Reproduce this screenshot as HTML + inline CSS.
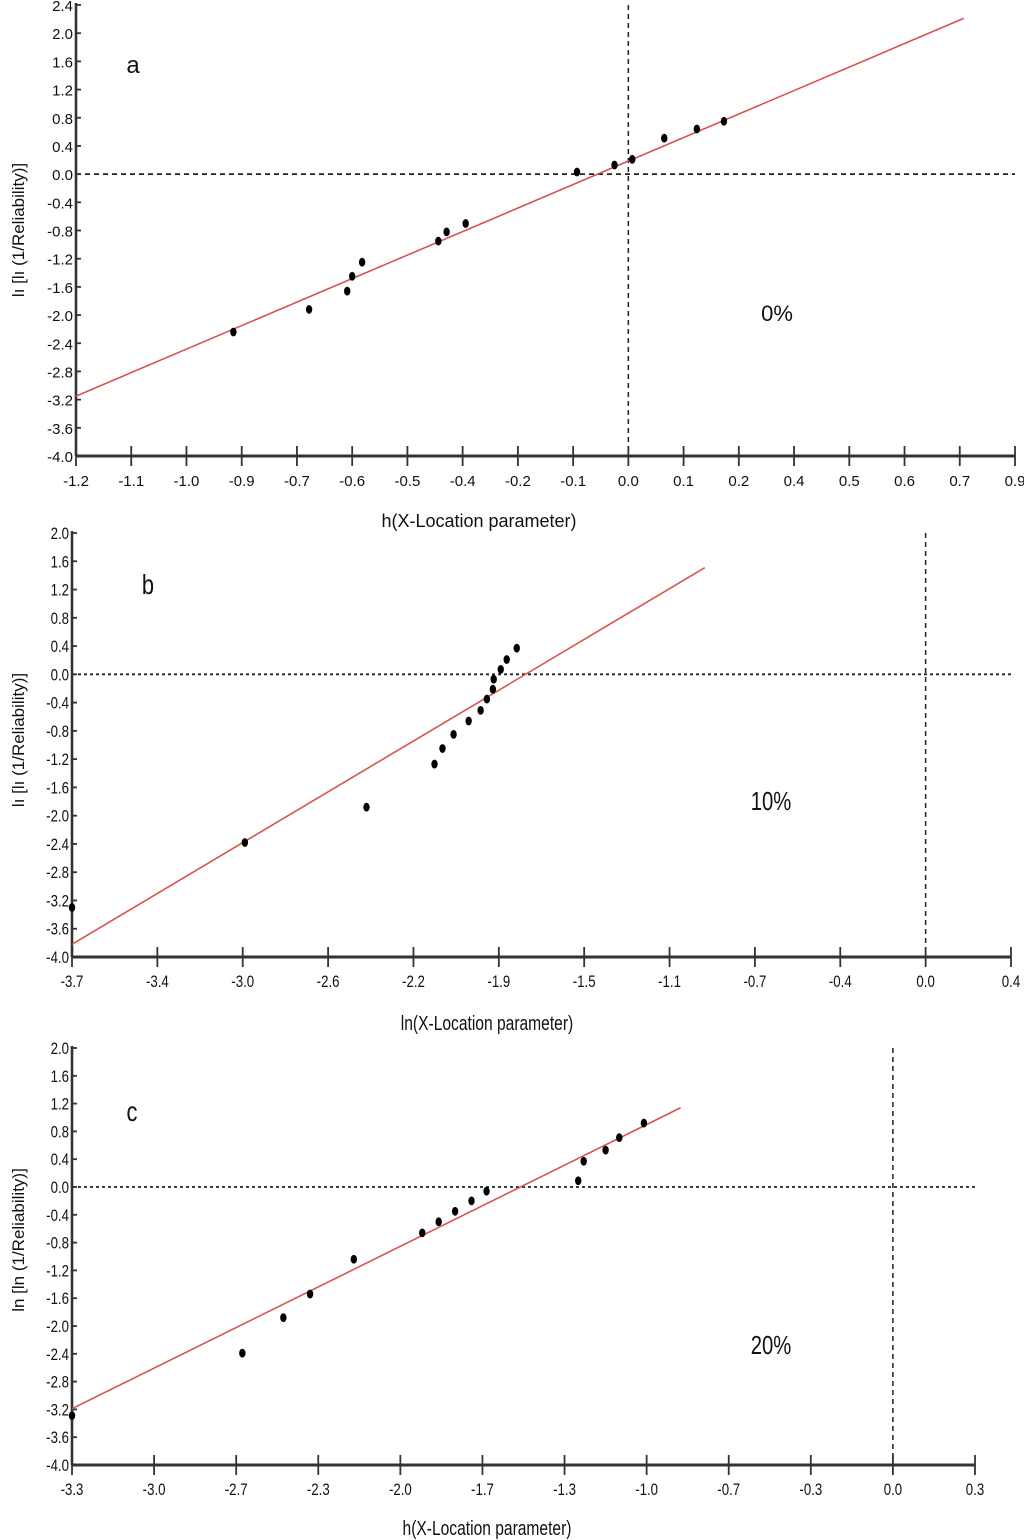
<!DOCTYPE html>
<html><head><meta charset="utf-8"><style>
html,body{margin:0;padding:0;background:#fff;}
svg{display:block;}
text{font-family:"Liberation Sans",sans-serif;fill:#111;}
</style></head><body>
<svg id="chart" width="1024" height="1540" viewBox="0 0 1024 1540" xmlns="http://www.w3.org/2000/svg"></svg>
<script>
// Panel a data
const aXTicks = [-1.2,-1.1,-1.0,-0.9,-0.7,-0.6,-0.5,-0.4,-0.2,-0.1,0.0,0.1,0.2,0.4,0.5,0.6,0.7,0.9];
const aYTicks = [2.4,2.0,1.6,1.2,0.8,0.4,0.0,-0.4,-0.8,-1.2,-1.6,-2.0,-2.4,-2.8,-3.2,-3.6,-4.0];
const aX = [-0.915,-0.678,-0.609,-0.600,-0.582,-0.444,-0.429,-0.389,-0.093,-0.025,0.007,0.065,0.124,0.173];
const aY = [-2.24,-1.92,-1.66,-1.45,-1.25,-0.95,-0.82,-0.70,0.03,0.13,0.21,0.51,0.64,0.75];
const aLineX = [-1.2,0.714];
const aLineY = [-3.15,2.21];
// Panel b data
const bXTicks = [-3.7,-3.4,-3.0,-2.6,-2.2,-1.9,-1.5,-1.1,-0.7,-0.4,0.0,0.4];
const bYTicks = [2.0,1.6,1.2,0.8,0.4,0.0,-0.4,-0.8,-1.2,-1.6,-2.0,-2.4,-2.8,-3.2,-3.6,-4.0];
const bX = [-3.70,-2.99,-2.42,-2.126,-2.098,-2.059,-2.006,-1.964,-1.942,-1.921,-1.918,-1.891,-1.863,-1.816];
const bY = [-3.30,-2.38,-1.88,-1.27,-1.05,-0.85,-0.66,-0.51,-0.35,-0.21,-0.07,0.07,0.21,0.37];
const bLineX = [-3.7,-0.935];
const bLineY = [-3.82,1.51];
// Panel c data
const cXTicks = [-3.3,-3.0,-2.7,-2.3,-2.0,-1.7,-1.3,-1.0,-0.7,-0.3,0.0,0.3];
const cYTicks = [2.0,1.6,1.2,0.8,0.4,0.0,-0.4,-0.8,-1.2,-1.6,-2.0,-2.4,-2.8,-3.2,-3.6,-4.0];
const cX = [-3.30,-2.67,-2.47,-2.34,-2.17,-1.92,-1.86,-1.80,-1.74,-1.68,-1.25,-1.23,-1.15,-1.10,-1.01];
const cY = [-3.29,-2.39,-1.88,-1.54,-1.04,-0.66,-0.50,-0.35,-0.20,-0.06,0.09,0.37,0.53,0.71,0.92];
const cLineX = [-3.3,-0.876];
const cLineY = [-3.19,1.14];

const NS = "http://www.w3.org/2000/svg";
const svg = document.getElementById('chart');
function mk(tag, attrs, parent){const e=document.createElementNS(NS,tag);for(const k in attrs)e.setAttribute(k,attrs[k]);parent.appendChild(e);return e;}
function txt(g,x,y,anchor,size,sx,str,rot){
  const t=mk('text',{x:0,y:0,'text-anchor':anchor,'font-size':size,
    transform:`translate(${x},${y})`+(rot?' rotate(-90)':'')+` scale(${sx},1)`},g);
  t.textContent=str;return t;
}

function panel(cfg){
  const g = mk('g',{},svg);
  
  
  const L=cfg.left, R=cfg.right, T=cfg.top, B=cfg.bottom, sx=cfg.sx;
  const xt=cfg.xTicks, yt=cfg.yTicks;
  const step=(R-L)/(xt.length-1);
  const xs = v => {
    for(let i=0;i<xt.length-1;i++){
      if(v<=xt[i+1]||i===xt.length-2){return L+step*(i+(v-xt[i])/(xt[i+1]-xt[i]));}
    }
  };
  const yMax=yt[0], yMin=yt[yt.length-1];
  const ys = v => B-(v-yMin)/(yMax-yMin)*(B-T);
  const hz = mk('line',{x1:L,x2:R,y1:ys(0),y2:ys(0),stroke:'#222','stroke-width':1.8,'stroke-dasharray':cfg.dash},g);
  
  
  const vt = mk('line',{x1:xs(0),x2:xs(0),y1:T,y2:B,stroke:'#222','stroke-width':1.5,'stroke-dasharray':'5,4'},g);
  
  
  const ya = mk('line',{x1:L,x2:L,y1:T-2,y2:B,stroke:'#333','stroke-width':2.6},g);
  
  
  const xa = mk('line',{x1:L,x2:R,y1:B,y2:B,stroke:'#333','stroke-width':3},g);
  
  
  yt.forEach(v=>{
    mk('line',{x1:L,x2:L+5,y1:ys(v),y2:ys(v),stroke:'#333','stroke-width':1.8},g);
    const t=txt(g,L-3,ys(v)+6,'end',cfg.fs,sx,v.toFixed(1));
    
    
  });
  xt.forEach((v,i)=>{
    const x=L+step*i;
    mk('line',{x1:x,x2:x,y1:B-10,y2:B+10,stroke:'#333','stroke-width':1.8},g);
    const t=txt(g,x,B+30,'middle',cfg.fs,sx,v.toFixed(1));
    
    
  });
  const fl = mk('line',{x1:xs(cfg.lx[0]),y1:ys(cfg.ly[0]),x2:xs(cfg.lx[1]),y2:ys(cfg.ly[1]),stroke:'#d9534f','stroke-width':1.6},g);
  
  
  cfg.px.forEach((v,i)=>{
    const p=mk('ellipse',{cx:xs(v),cy:ys(cfg.py[i]),rx:3.2,ry:4.4,fill:'#000'},g);
    
    
  });
  const pl=txt(g,cfg.letter[0],cfg.letter[1],'middle',cfg.big+2,sx,cfg.letter[2]);
  
  
  const pc=txt(g,cfg.pct[0],cfg.pct[1],'middle',cfg.big,sx,cfg.pct[2]);
  
  
  const xtl=txt(g,cfg.xtitle[0],cfg.xtitle[1],'middle',cfg.fs+3,sx,cfg.xtitle[2]);
  
  
  const ytl=txt(g,cfg.ytitle[0],cfg.ytitle[1],'middle',17,1,cfg.ytitle[2],true);
  
  
}

panel({name:'panel-a',sx:1,left:76,right:1015,top:5,bottom:456,xTicks:aXTicks,yTicks:aYTicks,px:aX,py:aY,lx:aLineX,ly:aLineY,dash:'5,4',fs:15,big:22,
  letter:[133,73,'a'],pct:[777,321,'0%'],xtitle:[479,527,'h(X-Location parameter)'],ytitle:[24,230,'lı [lı (1/Reliability)]']});
panel({name:'panel-b',sx:0.78,left:72,right:1011,top:533,bottom:957,xTicks:bXTicks,yTicks:bYTicks,px:bX,py:bY,lx:bLineX,ly:bLineY,dash:'3,3',fs:17,big:26,
  letter:[148,594,'b'],pct:[771,810,'10%'],xtitle:[487,1030,'ln(X-Location parameter)'],ytitle:[24,740,'lı [lı (1/Reliability)]']});
panel({name:'panel-c',sx:0.78,left:72,right:975,top:1048,bottom:1465,xTicks:cXTicks,yTicks:cYTicks,px:cX,py:cY,lx:cLineX,ly:cLineY,dash:'3,3',fs:17,big:26,
  letter:[132,1121,'c'],pct:[771,1354,'20%'],xtitle:[487,1535,'h(X-Location parameter)'],ytitle:[24,1240,'ln [ln (1/Reliability)]']});
</script>
</body></html>
